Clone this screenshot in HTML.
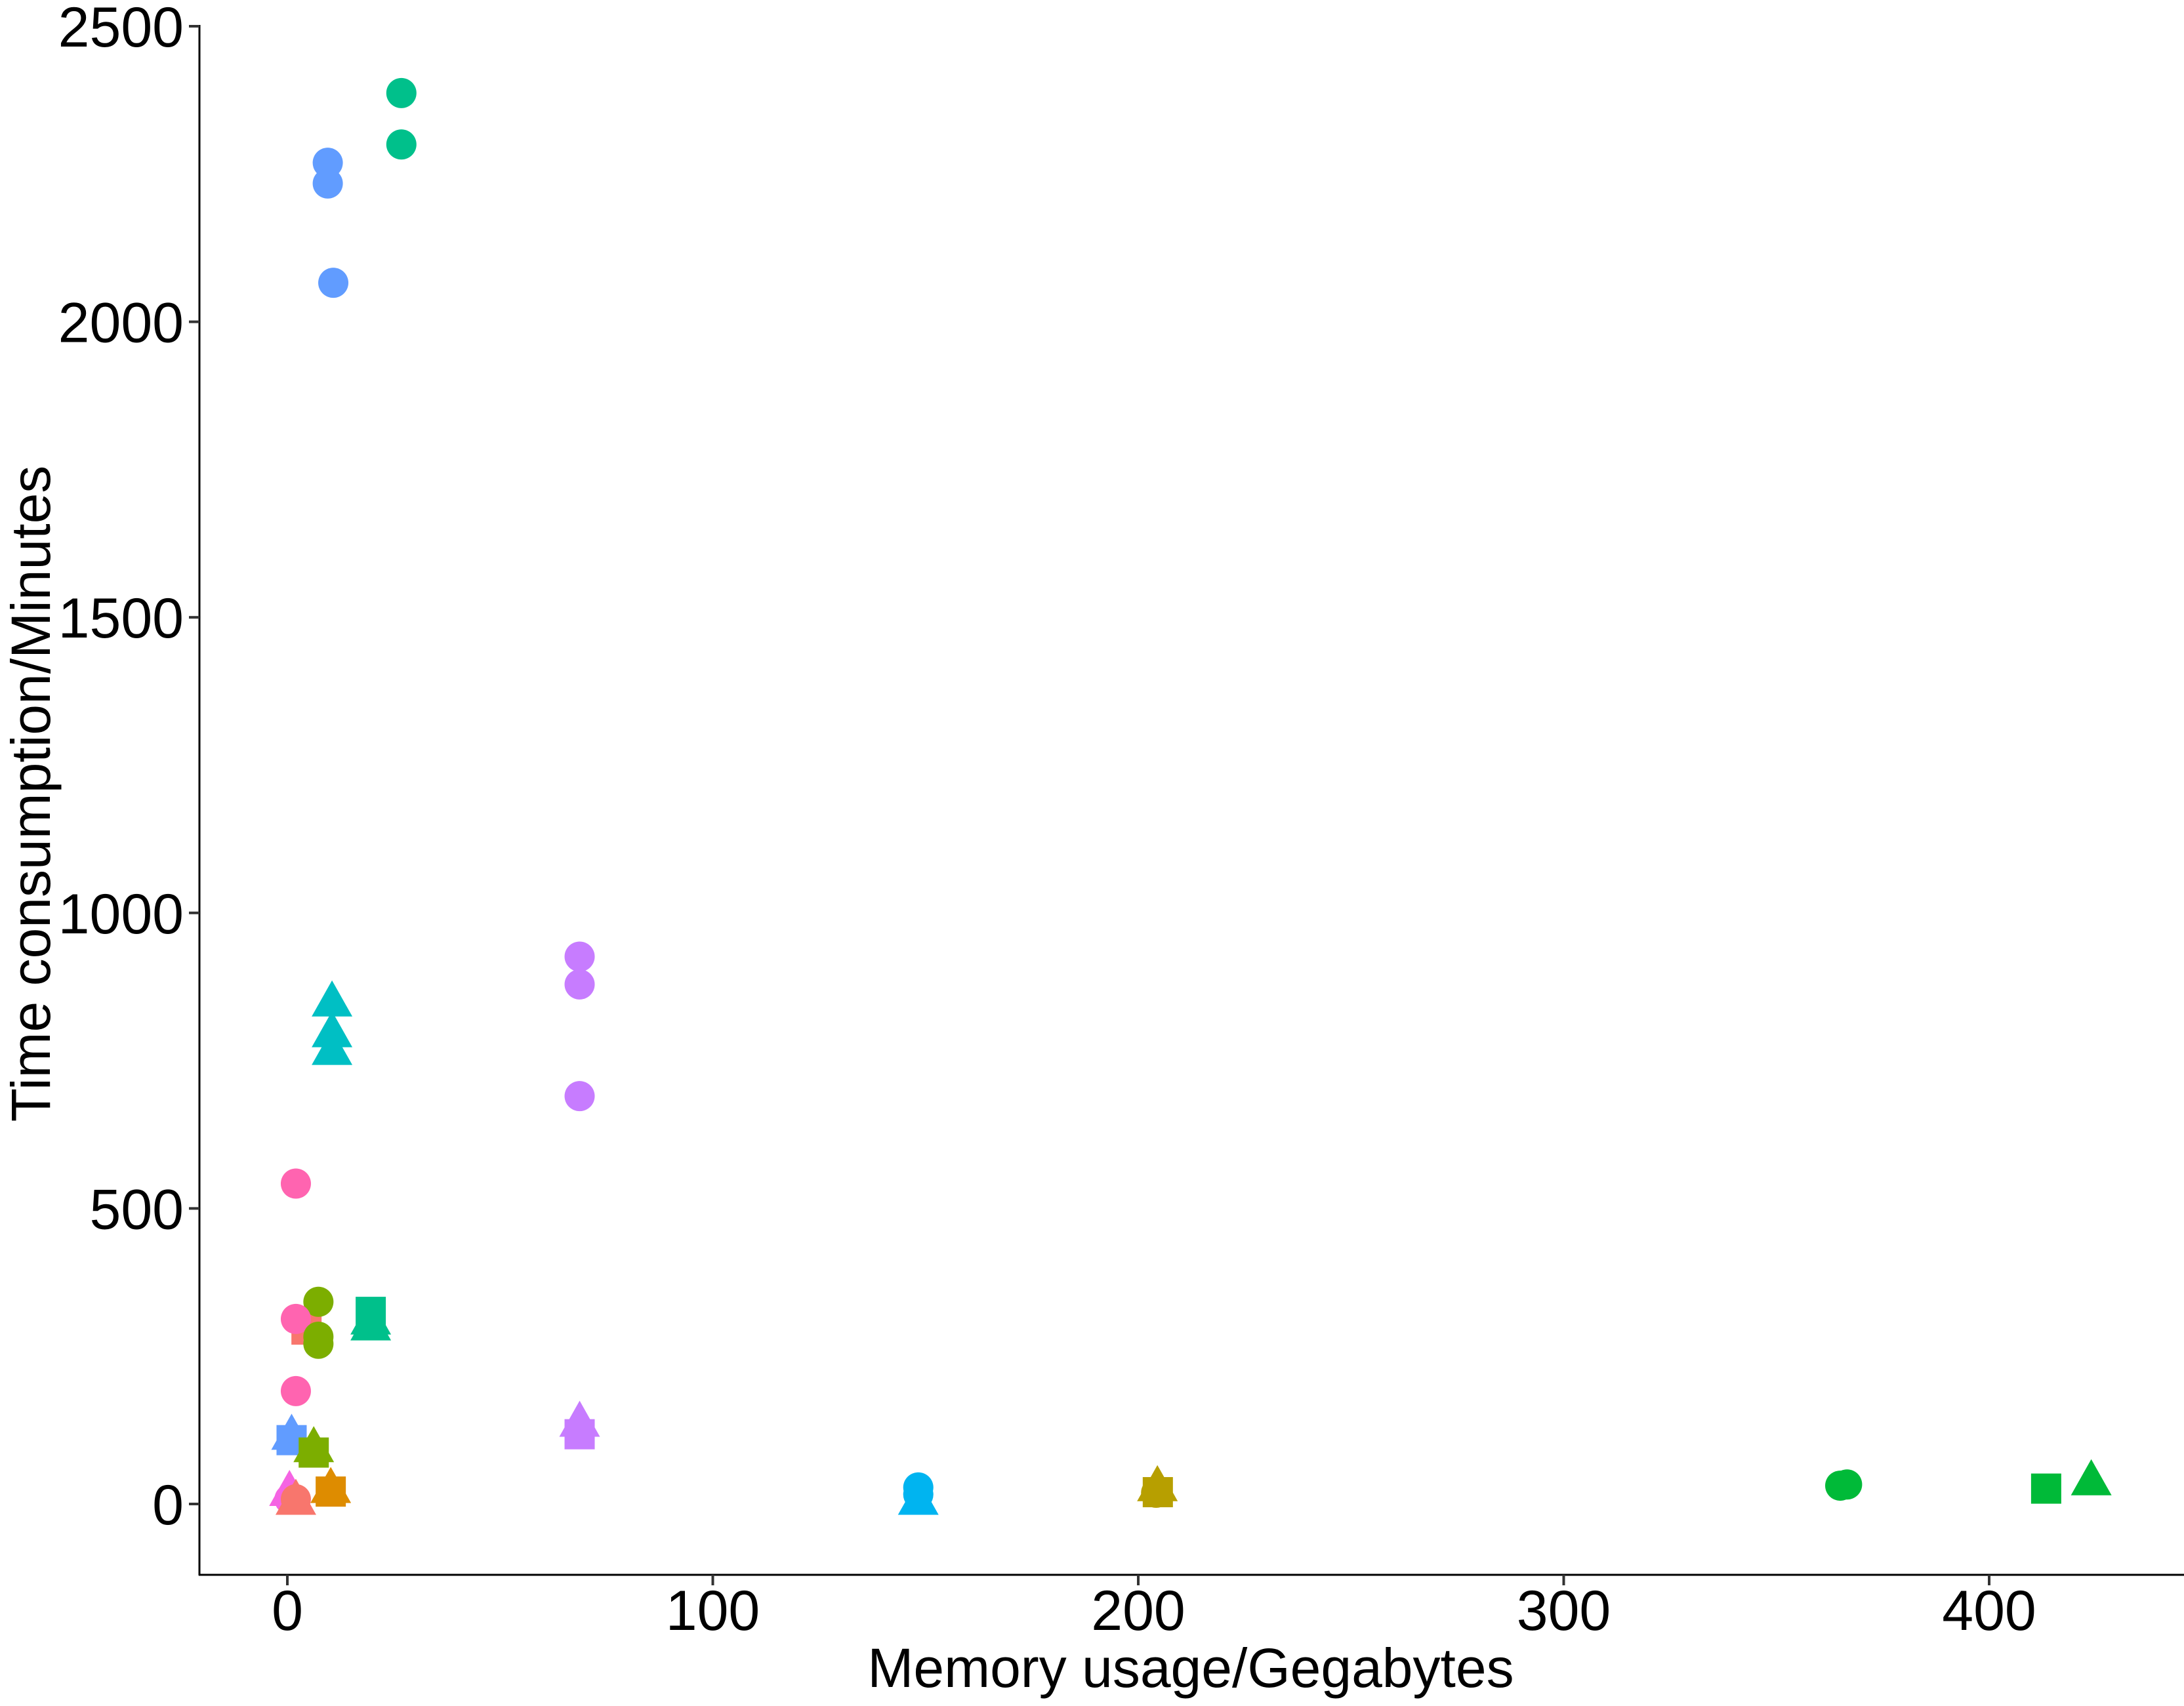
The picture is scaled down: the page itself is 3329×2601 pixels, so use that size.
<!DOCTYPE html>
<html><head><meta charset="utf-8"><style>
html,body{margin:0;padding:0;background:#fff;}
svg{display:block;font-family:"Liberation Sans",Arial,sans-serif;}
</style></head><body>
<svg id="chart" width="3329" height="2601" viewBox="0 0 3329 2601" xmlns="http://www.w3.org/2000/svg">
<g id="axes"></g>
<g id="points"></g>
<text x="1815" y="2572" font-size="84" text-anchor="middle">Memory usage/Gegabytes</text>
<text x="76" y="1210" font-size="84" text-anchor="middle" transform="rotate(-90 76 1210)">Time consumption/Minutes</text>
</svg>
<script>
const xTicks = [0, 100, 200, 300, 400];
const yTicks = [0, 500, 1000, 1500, 2000, 2500];
const groups = ["blue","teal","purple","cyan","pink","salmon","olive","purple","teal","teal","purple","blue","blue","olive","olive","orange","orange","magenta","magenta","salmon","salmon","skyblue","skyblue","skyblue","gold","gold","gold","green","green","green","green","blue","teal","cyan","cyan","purple","purple","pink","pink","olive","olive","teal","blue"];
const shapes = ["circle","circle","circle","triangle","circle","square","circle","triangle","square","triangle","square","square","triangle","square","triangle","square","triangle","triangle","circle","circle","triangle","circle","circle","triangle","circle","triangle","square","circle","circle","square","triangle","circle","circle","triangle","triangle","circle","circle","circle","circle","circle","circle","triangle","circle"];
const xVals = [9.5,26.8,68.7,10.5,2,4.5,7.3,68.7,19.6,19.6,68.7,1,1,6.2,6.2,10.2,10.2,0.5,0.5,2,2,148.3,148.3,148.3,204.2,204.5,204.6,365,366.6,413.4,424,9.5,26.8,10.5,10.5,68.7,68.7,2,2,7.3,7.3,19.6,10.8];
const yVals = [2269,2387,926,848,542,295,342,137,325,310,118,108,115,87,94,21,25,20,8,8,5,28,16,5,19,28,20,31,33,26,38,2234,2300,796,766,879,690,313,191,283,271,300,2066];
const palette = {blue:"#619CFF",teal:"#00C08B",purple:"#C77CFF",cyan:"#00BFC4",pink:"#FF64B0",salmon:"#F8766D",olive:"#7CAE00",orange:"#DE8C00",magenta:"#F564E3",skyblue:"#00B4F0",gold:"#B79F00",green:"#00BA38"};

const X0 = 438, KX = 6.485, Y0 = 2293, KY = 0.9012;
function sx(v){ return X0 + v*KX; }
function sy(v){ return Y0 - v*KY; }
const NS = "http://www.w3.org/2000/svg";
const axes = document.getElementById('axes');
function mk(tag, attrs, parent){ const e=document.createElementNS(NS,tag); for(const k in attrs) e.setAttribute(k,attrs[k]); parent.appendChild(e); return e; }

let l = mk('line',{x1:304,y1:38,x2:304,y2:2402,stroke:'#000','stroke-width':3},axes);


l = mk('line',{x1:303,y1:2401,x2:3329,y2:2401,stroke:'#000','stroke-width':3},axes);



xTicks.forEach(t=>{
  const x = sx(t);
  const tk = mk('line',{x1:x,y1:2401,x2:x,y2:2417,stroke:'#333','stroke-width':4},axes);
  
  
  const tx = mk('text',{x:x,y:2485,'font-size':86,'text-anchor':'middle',fill:'#000'},axes);
  tx.textContent = t;
  
  
});
yTicks.forEach(t=>{
  const y = sy(t);
  const tk = mk('line',{x1:288,y1:y,x2:304,y2:y,stroke:'#333','stroke-width':4},axes);
  
  
  const tx = mk('text',{x:280,y:y+31,'font-size':86,'text-anchor':'end',fill:'#000'},axes);
  tx.textContent = t;
  
  
});

const pts = document.getElementById('points');
const R = 23;
xVals.forEach((v,i)=>{
  const cx = sx(v), cy = sy(yVals[i]), col = palette[groups[i]];
  let e;
  if(shapes[i]==='circle') e = mk('circle',{cx:cx,cy:cy,r:R,fill:col},pts);
  else if(shapes[i]==='square') e = mk('rect',{x:cx-R,y:cy-R,width:2*R,height:2*R,fill:col},pts);
  else e = mk('polygon',{points:`${cx},${cy-34} ${cx+31},${cy+21} ${cx-31},${cy+21}`,fill:col},pts);
  
  
});
</script>
</body></html>
